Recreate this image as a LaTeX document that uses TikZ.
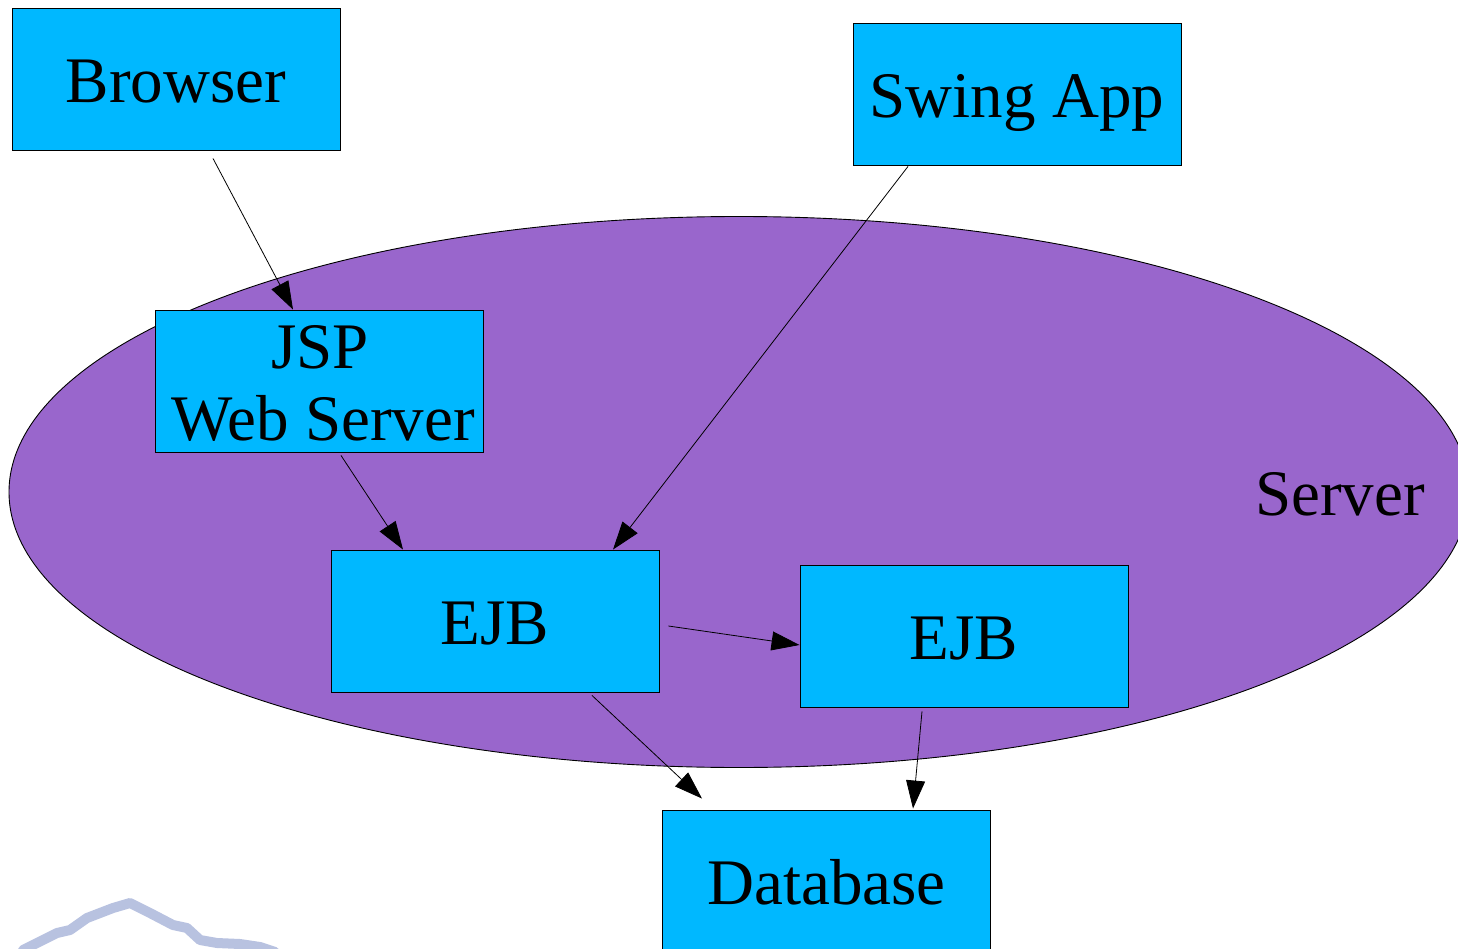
\documentclass[tikz,border=0pt]{standalone}
\usepackage{fontspec}
\setmainfont{Liberation Serif}
\usetikzlibrary{arrows.meta,calc}
\definecolor{boxblue}{RGB}{0,184,255}
\definecolor{srvpurple}{RGB}{153,102,204}
\definecolor{wmark}{RGB}{184,194,224}
\tikzset{
  box/.style={draw=black, line width=0.9pt, fill=boxblue, minimum width=328pt, minimum height=142pt, inner sep=0pt, text height=47pt, text depth=0pt, font=\fontsize{65}{72}\selectfont},
  lbl/.style={inner sep=0pt, anchor=base, font=\fontsize{65}{72}\selectfont},
  arr/.style={draw=black, line width=0.8pt, -{Triangle[length=28pt,width=19pt]}}
}
\begin{document}
\begin{tikzpicture}[x=1pt,y=-1pt]
\useasboundingbox (0,0) rectangle (1458,949);
\clip (0,0) rectangle (1458,949);
% watermark fragment
\draw[wmark, line width=10pt, line cap=round, line join=round]
  (23,950) -- (43,940) -- (57,933) -- (70,930) -- (87,918) -- (100,913) -- (113,908) -- (130,903) -- (150,913) -- (173,925) -- (187,928) -- (200,940) -- (217,943) -- (240,944) -- (260,947) -- (275,952);
\draw[wmark, line width=5pt] (3,952) arc[start angle=180, end angle=90, radius=8];
% server ellipse
\fill[srvpurple] (739,492) ellipse [x radius=730, y radius=275.5];
\draw[line width=0.9pt] (739,492) ellipse [x radius=730, y radius=275.5];
\node[lbl] (server) at (1340,515) {Server};
% boxes
\node[box] (browser) at (176,79) {Browser};
\node[box] (swing) at (1017,94) {Swing App};
\node[box] (jsp) at (319.5,381) {};
\node[lbl] (jspa) at (320,368) {JSP};
\node[lbl] (jspb) at (323,440) {Web Server};
\node[box] (ejba) at (495,621) {EJB};
\node[box] (ejbb) at (964,636) {EJB};
\node[box] (db) at (826.5,881) {Database};
% connectors
\draw[arr] ($(browser.south)+(37,8)$) -- ($(jsp.north)+(-26.5,0)$);
\draw[arr] ($(swing.south)+(-109,1)$) -- ($(ejba.north)+(118,0)$);
\draw[arr] ($(jsp.south)+(21.5,3)$) -- ($(ejba.north)+(-92,0)$);
\draw[arr] ($(ejba.east)+(9,5)$) -- ($(ejbb.west)+(0,9)$);
\draw[arr] ($(ejba.south)+(97,3)$) -- ($(db.north)+(-124.5,-11)$);
\draw[arr] ($(ejbb.south)+(-42,4)$) -- ($(db.north)+(86.5,-1)$);
\end{tikzpicture}
\end{document}
